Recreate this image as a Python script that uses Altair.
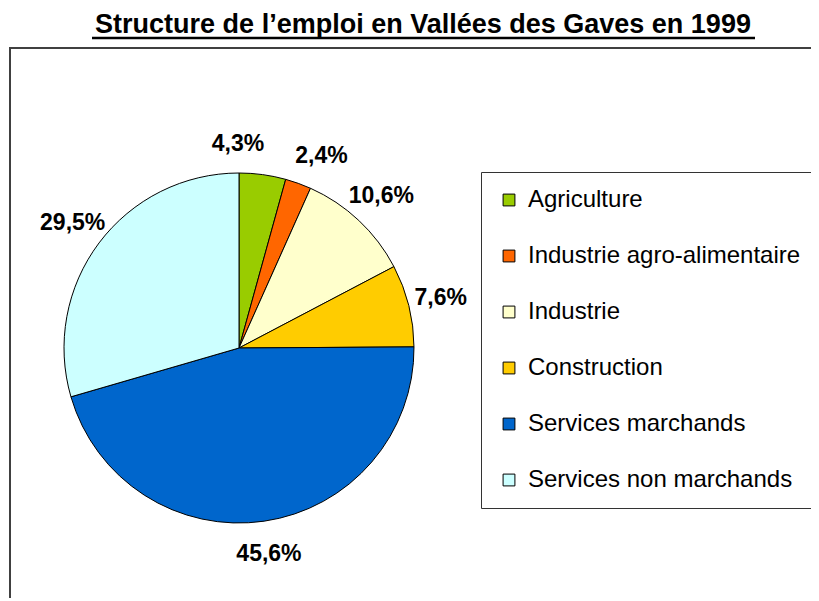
import altair as alt
import pandas as pd

categories = ["Agriculture", "Industrie agro-alimentaire", "Industrie", "Construction",
              "Services marchands", "Services non marchands"]
values = [4.3, 2.4, 10.6, 7.6, 45.6, 29.5]
colors = ["#99CC00", "#FF6600", "#FFFFCC", "#FFCC00", "#0066CC", "#CCFFFF"]
title_text = "Structure de l\u2019emploi en Vallées des Gaves en 1999"

labels = [f"{v:.1f}".replace(".", ",") + "%" for v in values]
df = pd.DataFrame({"cat": categories, "val": values, "lab": labels, "idx": list(range(len(values)))})

FONT = "Liberation Sans"
CX, CY = 231, 340

pie = alt.Chart(df).mark_arc(outerRadius=175, stroke="black", strokeWidth=1).encode(
    theta=alt.Theta("val:Q", stack=True),
    order=alt.Order("idx:Q", sort="ascending"),
    x=alt.value(CX), y=alt.value(CY),
    fill=alt.Fill("cat:N", scale=alt.Scale(domain=categories, range=colors),
                  sort=categories,
                  legend=alt.Legend(title=None, orient="none", legendX=473, legendY=164,
                                    symbolType="square", symbolSize=140,
                                    symbolStrokeColor="black", symbolStrokeWidth=1,
                                    labelFont=FONT, labelFontSize=24, labelColor="black",
                                    labelLimit=400, labelOffset=7,
                                    rowPadding=32, padding=16,
                                    strokeColor="#333333", fillColor="white")),
)

lab_base = alt.Chart(df).transform_window(
    cum="sum(val)", sort=[alt.SortField("idx", order="ascending")]
).transform_joinaggregate(total="sum(val)").transform_calculate(
    mid="(datum.cum - datum.val / 2) / datum.total"
)

def label_layer(cond, dx=0, dy=0):
    return lab_base.transform_filter(cond).mark_text(
        radius=208, font=FONT, fontSize=23, fontWeight="bold", color="black",
        align="center", baseline="middle", dx=dx, dy=dy).encode(
        theta=alt.Theta("mid:Q", stack=None, scale=alt.Scale(domain=[0, 1])),
        x=alt.value(CX), y=alt.value(CY), text="lab:N")

text_main = label_layer("datum.idx >= 2")
text_a = label_layer("datum.idx == 0", dx=-29, dy=2)
text_b = label_layer("datum.idx == 1", dx=12, dy=4)
labels_layer = alt.layer(text_main, text_a, text_b)

frame = alt.Chart(df).transform_filter("datum.idx == 0").mark_rect(
    fillOpacity=0, stroke="#404040", strokeWidth=2).encode(
    x=alt.value(2), x2=alt.value(900), y=alt.value(40), y2=alt.value(700))

title = alt.Chart(df).transform_filter("datum.idx == 0").mark_text(
    font=FONT, fontSize=27, fontWeight="bold", color="black", align="center",
    baseline="alphabetic").encode(x=alt.value(415), y=alt.value(25), text=alt.value(title_text))

underline = alt.Chart(df).transform_filter("datum.idx == 0").mark_rule(
    color="black", strokeWidth=2.5).encode(
    x=alt.value(84), x2=alt.value(747), y=alt.value(30))

chart = alt.layer(frame, pie, labels_layer, title, underline).resolve_scale(
    theta="independent"
).properties(
    width=803, height=590, autosize="none", padding=0
).configure_view(stroke=None)

chart.save("out.html", embed_options={"renderer": "svg", "actions": False})
